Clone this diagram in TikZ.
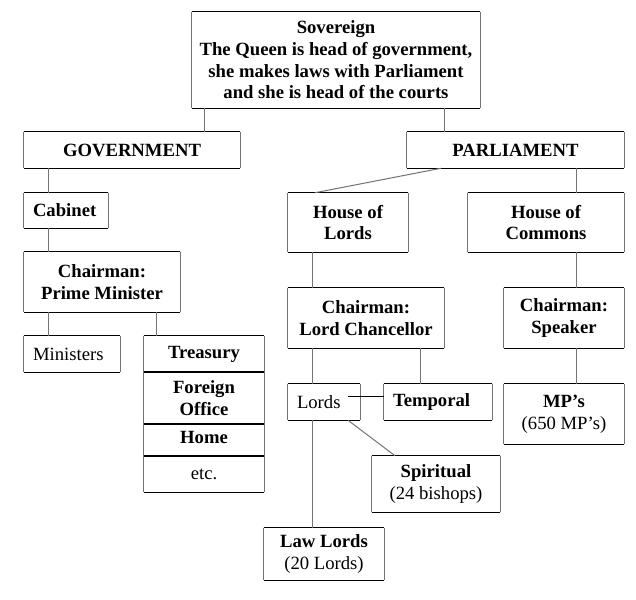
\documentclass[tikz,border=0pt]{standalone}
\usepackage{fontspec}
\setmainfont{Liberation Serif}
\begin{document}
\begin{tikzpicture}[x=0.75pt,y=-0.75pt,
  box/.style={draw=none, inner sep=0pt, align=center,
    font=\fontsize{14}{16.3}\selectfont\bfseries},
  pxbox/.style args={#1/#2/#3/#4}{minimum width={(#3-#1)*0.75pt},
    minimum height={(#4-#2)*0.75pt}, at={({(#1+#3)/2},{(#2+#4)/2})}},
  lefttext/.style={inner xsep=6.75pt, align=left, text width=#1},
  edgeh/.style={draw=black, line width=0.75pt},
  edgev/.style={draw=black!55, line width=0.75pt},
  conn/.style={draw=black!55, line width=0.75pt},
  connb/.style={draw=black, line width=0.75pt}]
\useasboundingbox[fill=white] (0,0) rectangle (636,600);
% boxes
\node[box, pxbox=192/12/480/108] (sov) {Sovereign\\The Queen is head of government,\\she makes laws with Parliament\\and she is head of the courts};
\node[box, pxbox=24/132/240/168] (gov) {GOVERNMENT};
\node[box, pxbox=407/132/624/168] (parl) {PARLIAMENT};
\node[box, pxbox=24/193/108/228, lefttext=49.5pt] (cab) {Cabinet};
\node[box, pxbox=24/252/180/312] (pm) {Chairman:\\Prime Minister};
\node[box, pxbox=24/336/120/372, lefttext=58.5pt] (min) {\mdseries Ministers};
\node[box, pxbox=144/336/264/372] (tre) {Treasury};
\node[box, pxbox=144/372/264/424] (fo) {Foreign\\Office};
\node[box, pxbox=144/424/264/456, text depth=4pt] (home) {Home};
\node[box, pxbox=144/456/264/492] (etc) {\mdseries etc.};
\node[box, pxbox=288/193/408/252] (hol) {House of\\Lords};
\node[box, pxbox=468/193/624/252] (hoc) {House of\\Commons};
\node[box, pxbox=288/288/444/348] (lc) {Chairman:\\Lord Chancellor};
\node[box, pxbox=504/288/624/348] (spk) {Chairman:\\Speaker};
\node[box, pxbox=288/384/360/420, lefttext=40.5pt] (lords) {\mdseries Lords};
\node[box, pxbox=384/384/492/420, lefttext=67.5pt] (temp) {Temporal};
\node[box, pxbox=504/384/624/444] (mps) {MP’s\\\mdseries (650 MP’s)};
\node[box, pxbox=372/456/500/512] (spir) {Spiritual\\\mdseries (24 bishops)};
\node[box, pxbox=264/528/384/580] (law) {Law Lords\\\mdseries (20 Lords)};
% box borders
\foreach \n in {sov,gov,parl,cab,pm,min,tre,fo,home,etc,hol,hoc,lc,spk,lords,temp,mps,spir,law}{
  \draw[edgeh] (\n.north west) -- (\n.north east) (\n.south west) -- (\n.south east);
  \draw[edgev] (\n.north west) -- (\n.south west) (\n.north east) -- (\n.south east);
}
% connector x positions
\coordinate (xa) at (204,0);
\coordinate (xb) at (444,0);
\coordinate (xc) at (441,0);
\coordinate (xd) at (315,0);
\coordinate (xe) at (576,0);
\coordinate (xf) at (48,0);
\coordinate (xg) at (156,0);
\coordinate (xh) at (312,0);
\coordinate (xi) at (420,0);
\coordinate (xj) at (395,0);
\coordinate (lt) at (348,396);
% connectors
\draw[conn] (sov.south -| xa) -- (gov.north -| xa);
\draw[conn] (sov.south -| xb) -- (parl.north -| xb);
\draw[conn] (parl.south -| xc) -- (hol.north -| xd);
\draw[conn] (parl.south -| xe) -- (hoc.north -| xe);
\draw[conn] (gov.south -| xf) -- (cab.north -| xf);
\draw[conn] (cab.south -| xf) -- (pm.north -| xf);
\draw[conn] (pm.south -| xf) -- (min.north -| xf);
\draw[conn] (pm.south -| xg) -- (tre.north -| xg);
\draw[conn] (hol.south -| xh) -- (lc.north -| xh);
\draw[conn] (lc.south -| xh) -- (lords.north -| xh);
\draw[conn] (lords.south -| xh) -- (law.north -| xh);
\draw[conn] (lc.south -| xi) -- (temp.north -| xi);
\draw[connb] (lt) -- (lt -| temp.west);
\draw[conn] (lords.south -| lt) -- (spir.north -| xj);
\draw[conn] (hoc.south -| xe) -- (spk.north -| xe);
\draw[conn] (spk.south -| xe) -- (mps.north -| xe);
\end{tikzpicture}
\end{document}
